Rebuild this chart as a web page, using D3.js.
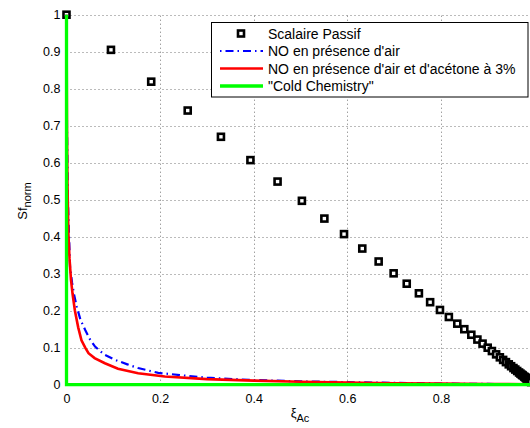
<!DOCTYPE html>
<html><head><meta charset="utf-8">
<script src="https://cdn.jsdelivr.net/npm/d3@7"></script>
<style>body{margin:0;background:#fff;overflow:hidden} text{font-family:"Liberation Sans",Arial,Helvetica,sans-serif;fill:#000}</style>
</head><body><svg id="c" width="530" height="428"></svg>
<script>
// ---- data ----
const gridX = [0, 0.2, 0.4, 0.6, 0.8, 1];
const xTicks = [0, 0.2, 0.4, 0.6, 0.8];           // the "1" label lies outside the visible picture
const xTickLabels = ["0", "0.2", "0.4", "0.6", "0.8"];
const yTicks = [0, 0.1, 0.2, 0.3, 0.4, 0.5, 0.6, 0.7, 0.8, 0.9, 1];
const yTickLabels = ["0", "0.1", "0.2", "0.3", "0.4", "0.5", "0.6", "0.7", "0.8", "0.9", "1"];

// "Scalaire Passif" markers
const scalX = [0, 0.095, 0.181, 0.259, 0.330, 0.393, 0.451, 0.503, 0.551, 0.593, 0.632, 0.667, 0.699, 0.727,
  0.753, 0.777, 0.798, 0.817, 0.835, 0.850, 0.865, 0.878, 0.889, 0.900, 0.909, 0.918, 0.926, 0.933, 0.939,
  0.945, 0.950, 0.955, 0.959, 0.963, 0.967, 0.970, 0.973, 0.975, 0.978, 0.980, 0.982, 0.983, 0.985, 0.986,
  0.988, 0.989, 0.990, 0.991, 0.992, 0.993];
const scalY = [1, 0.905, 0.819, 0.741, 0.670, 0.607, 0.549, 0.497, 0.449, 0.407, 0.368, 0.333, 0.301, 0.273,
  0.247, 0.223, 0.202, 0.183, 0.165, 0.150, 0.135, 0.122, 0.111, 0.100, 0.091, 0.082, 0.074, 0.067, 0.061,
  0.055, 0.050, 0.045, 0.041, 0.037, 0.033, 0.030, 0.027, 0.025, 0.022, 0.020, 0.018, 0.017, 0.015, 0.014,
  0.012, 0.011, 0.010, 0.009, 0.008, 0.007];

// "NO en présence d'air"
const noAirX = [0, 0.001, 0.003, 0.0075, 0.012, 0.016, 0.022, 0.03, 0.04, 0.05, 0.061, 0.08, 0.104, 0.13,
  0.153, 0.196, 0.25, 0.3, 0.39, 0.5, 0.6, 0.7, 0.8, 0.9, 1.0];
const noAirY = [1, 0.7, 0.5, 0.32, 0.275, 0.245, 0.21, 0.175, 0.148, 0.123, 0.103, 0.082, 0.067, 0.055,
  0.045, 0.032, 0.025, 0.019, 0.013, 0.009, 0.007, 0.005, 0.003, 0.002, 0.001];

// "NO en présence d'air et d'acétone à 3%"
const noAcX = [0, 0.001, 0.002, 0.004, 0.0065, 0.0096, 0.013, 0.018, 0.025, 0.032, 0.04, 0.047, 0.06, 0.082,
  0.11, 0.153, 0.21, 0.3, 0.4, 0.5, 0.6, 0.7, 0.8, 0.9, 1.0];
const noAcY = [1, 0.7, 0.55, 0.41, 0.34, 0.283, 0.245, 0.20, 0.155, 0.12, 0.1, 0.085, 0.072, 0.058,
  0.043, 0.031, 0.022, 0.015, 0.011, 0.008, 0.006, 0.004, 0.003, 0.002, 0.001];

// "Cold Chemistry"
const coldX = [0, 0, 1];
const coldY = [1, 0, 0];

const legendLabels = ["Scalaire Passif", "NO en présence d'air", "NO en présence d'air et d'acétone à 3%", "\"Cold Chemistry\""];

// ---- drawing ----
const svg = d3.select("#c");
const x = d3.scaleLinear().domain([0, 1]).range([66.5, 534.5]);
const y = d3.scaleLinear().domain([0, 1]).range([384.7, 14.7]);
const zip = (a, b) => a.map((v, i) => [v, b[i]]);
const line = d3.line().x(d => x(d[0])).y(d => y(d[1]));

// grid
const grid = svg.append("g").attr("stroke", "#777").attr("stroke-width", 1).attr("stroke-dasharray", "1,3");
grid.selectAll("line.gx").data(gridX).join("line")
  .attr("x1", d => Math.round(x(d)) + 0.5).attr("x2", d => Math.round(x(d)) + 0.5)
  .attr("y1", y(0)).attr("y2", y(1));
grid.selectAll("line.gy").data(yTicks).join("line")
  .attr("y1", d => Math.round(y(d)) + 0.5).attr("y2", d => Math.round(y(d)) + 0.5)
  .attr("x1", x(0)).attr("x2", x(1));

// axes (labels only, domain covered by data)
const xAxis = d3.axisBottom(x).tickValues(xTicks).tickFormat((d, i) => xTickLabels[i]).tickSize(0).tickPadding(9);
const yAxis = d3.axisLeft(y).tickValues(yTicks).tickFormat((d, i) => yTickLabels[i]).tickSize(0).tickPadding(6);
const gx = svg.append("g").attr("transform", `translate(0,${y(0)})`).call(xAxis);
const gy = svg.append("g").attr("transform", `translate(${x(0)},0)`).call(yAxis);
[gx, gy].forEach(g => {
  g.select(".domain").attr("stroke", "#000");
  g.selectAll("text").attr("font-size", 12.5).attr("font-family", "Liberation Sans, Arial, sans-serif").attr("fill", "#000");
});

// scalaire markers
const markerG = svg.append("g");
markerG.selectAll("rect").data(zip(scalX, scalY)).join("rect")
  .attr("x", d => x(d[0]) - 3).attr("y", d => y(d[1]) - 3)
  .attr("width", 6).attr("height", 6)
  .attr("fill", "#fff").attr("stroke", "#000").attr("stroke-width", 2.6);

// lines
svg.append("path").datum(zip(noAirX, noAirY)).attr("d", line)
  .attr("fill", "none").attr("stroke", "#0000ff").attr("stroke-width", 2.2).attr("stroke-dasharray", "8,4,1.5,4");
svg.append("path").datum(zip(noAcX, noAcY)).attr("d", line)
  .attr("fill", "none").attr("stroke", "#ff0000").attr("stroke-width", 2.6);
svg.append("path").datum(zip(coldX, coldY)).attr("d", line)
  .attr("fill", "none").attr("stroke", "#00ff00").attr("stroke-width", 3.3);

// axis labels
const xl = svg.append("text").attr("x", 300).attr("y", 417).attr("text-anchor", "middle").attr("font-size", 13);
xl.append("tspan").text("ξ");
xl.append("tspan").attr("dy", 5).attr("font-size", 11).text("Ac");
const yl = svg.append("text").attr("transform", "translate(27,201) rotate(-90)").attr("text-anchor", "middle").attr("font-size", 13);
yl.append("tspan").text("Sf");
yl.append("tspan").attr("dy", 4).attr("font-size", 11).text("norm");

// legend
const lg = svg.append("g");
lg.append("rect").attr("x", 211.5).attr("y", 22.5).attr("width", 316.5).attr("height", 74.5)
  .attr("fill", "#fff").attr("stroke", "#000").attr("stroke-width", 1);
const rowsY = [33.5, 51, 68.5, 86];
lg.append("rect").attr("x", 241 - 3).attr("y", rowsY[0] - 3).attr("width", 6).attr("height", 6)
  .attr("fill", "#fff").attr("stroke", "#000").attr("stroke-width", 2.6);
lg.append("line").attr("x1", 220).attr("x2", 263).attr("y1", rowsY[1]).attr("y2", rowsY[1])
  .attr("stroke", "#0000ff").attr("stroke-width", 2.2).attr("stroke-dasharray", "1.5,4,8,4");
lg.append("line").attr("x1", 220).attr("x2", 263).attr("y1", rowsY[2]).attr("y2", rowsY[2])
  .attr("stroke", "#ff0000").attr("stroke-width", 2.6);
lg.append("line").attr("x1", 220).attr("x2", 263).attr("y1", rowsY[3]).attr("y2", rowsY[3])
  .attr("stroke", "#00ff00").attr("stroke-width", 3.3);
lg.selectAll("text").data(legendLabels).join("text")
  .attr("x", 268).attr("y", (d, i) => rowsY[i]).attr("dy", "0.36em")
  .attr("font-size", 14).text(d => d);
</script></body></html>
